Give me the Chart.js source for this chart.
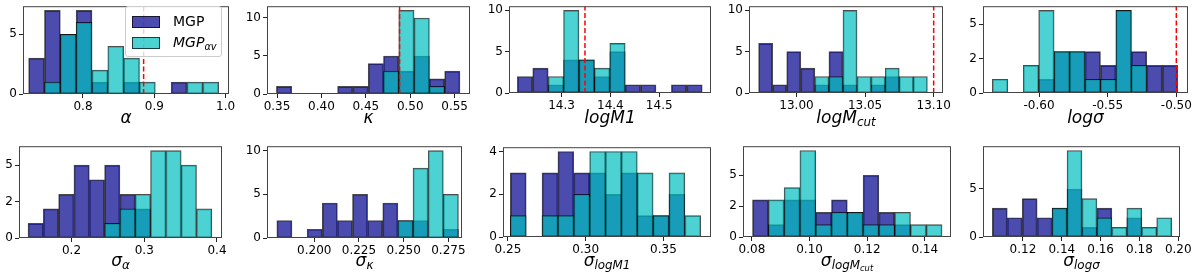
<!DOCTYPE html>
<html>
<head>
<meta charset="utf-8">
<script src="https://cdn.jsdelivr.net/npm/chart.js@4.4.1/dist/chart.umd.min.js"></script>
<style>
  body { margin: 0; width: 1200px; height: 273px; position: relative; overflow: hidden; background: #fff; font-family: "DejaVu Sans", sans-serif; }
  canvas { position: absolute; }
  .xt { position: absolute; font-size: 17px; line-height: 1; transform: translate(-50%, -50%); white-space: nowrap; color: #000; }
  .xt sub { font-size: 70%; vertical-align: -0.28em; line-height: 0; }
  #legend { position: absolute; left: 125px; top: 6px; width: 97px; height: 51px; box-sizing: border-box;
            background: rgba(255,255,255,0.8); border: 1px solid #ccc; border-radius: 3px; font-size: 14px; }
  #legend .row { position: absolute; left: 6px; height: 13px; }
  #legend .patch { position: absolute; left: 0; top: 0; width: 28px; height: 12px; box-sizing: border-box; border: 1px solid rgba(0,0,0,0.7); }
  #legend .lab { position: absolute; left: 41px; top: -2px; white-space: nowrap; line-height: 1; }
  #legend sub { font-size: 70%; vertical-align: -0.3em; line-height: 0; }
</style>
</head>
<body>
<div id="legend">
  <div class="row" style="top:9px"><span class="patch" style="background:rgba(0,0,139,0.7)"></span><span class="lab">MGP</span></div>
  <div class="row" style="top:30px"><span class="patch" style="background:rgba(0,191,191,0.7)"></span><span class="lab"><i>MGP</i><sub><i>αv</i></sub></span></div>
</div>
<script>
// --- DATA ---
// histogram range (first and last bin edge) of each panel, 12 equal bins
const binRanges = [
  [0.7238, 0.9902], [0.3493, 0.5560], [14.2096, 14.588], [12.9724, 13.0954], [-0.634, -0.499],
  [0.1402, 0.3929], [0.1791, 0.2806], [0.2515, 0.374], [0.0802, 0.1460], [0.1042, 0.1966]
];
const mgpCounts = [
  [3, 7, 5, 7, 1, 0, 1, 0, 0, 1, 0, 0],
  [1, 0, 0, 0, 1, 1, 4, 5, 3, 5, 2, 3],
  [2, 3, 1, 4, 4, 2, 5, 1, 1, 0, 1, 1],
  [6, 1, 5, 3, 1, 5, 1, 0, 1, 2, 0, 0],
  [0, 0, 0, 1, 3, 3, 3, 2, 6, 3, 2, 2],
  [1, 2, 3, 5, 4, 5, 3, 2, 0, 0, 0, 0],
  [2, 0, 1, 4, 2, 5, 2, 4, 2, 2, 0, 1],
  [3, 0, 3, 4, 3, 3, 2, 3, 1, 1, 2, 0],
  [3, 1, 3, 3, 2, 3, 2, 5, 2, 1, 0, 0],
  [3, 2, 4, 2, 3, 5, 1, 3, 0, 2, 0, 0]
];
const mgpAvCounts = [
  [0, 1, 5, 6, 2, 4, 3, 1, 0, 0, 1, 1],
  [0, 0, 0, 0, 0, 0, 0, 3, 11, 10, 1, 0],
  [0, 0, 2, 10, 4, 3, 6, 0, 0, 0, 0, 0],
  [0, 0, 0, 0, 2, 2, 10, 2, 2, 3, 2, 2],
  [1, 0, 2, 6, 3, 3, 1, 1, 6, 2, 0, 0],
  [0, 0, 0, 0, 0, 1, 2, 3, 6, 6, 5, 2],
  [0, 0, 0, 0, 0, 0, 0, 0, 2, 8, 10, 5],
  [1, 0, 1, 1, 2, 4, 4, 4, 3, 1, 3, 1],
  [0, 3, 4, 7, 1, 2, 2, 1, 1, 2, 1, 1],
  [0, 0, 0, 0, 3, 9, 4, 2, 1, 3, 1, 2]
];
const truthValues = [0.885, 0.488, 14.348, 13.10, -0.50, null, null, null, null, null];
const xLimits = [
  [0.7159, 1.0047], [0.3387, 0.5673], [14.1925, 14.606], [12.9654, 13.1068], [-0.6408, -0.4915],
  [0.1278, 0.4069], [0.1736, 0.2826], [0.2468, 0.3806], [0.0769, 0.1491], [0.0994, 0.2009]
];
const xTickLabels = [
  ['0.8', '0.9', '1.0'], ['0.35', '0.40', '0.45', '0.50', '0.55'], ['14.3', '14.4', '14.5'],
  ['13.00', '13.05', '13.10'], ['-0.60', '-0.55', '-0.50'],
  ['0.2', '0.3', '0.4'], ['0.200', '0.225', '0.250', '0.275'], ['0.25', '0.30', '0.35'],
  ['0.08', '0.10', '0.12', '0.14'], ['0.12', '0.14', '0.16', '0.18', '0.20']
];
const yTickValues = [
  [0, 5], [0, 5, 10], [0, 5, 10], [0, 5, 10], [0, 2.5, 5],
  [0, 2.5, 5], [0, 5, 10], [0, 2, 4], [0, 2.5, 5], [0, 5]
];
const yMaxValues = [7.35, 11.55, 10.5, 10.5, 6.3, 6.3, 10.5, 4.2, 7.35, 9.45];
const xTitles = [
  '<i>α</i>', '<i>κ</i>', '<i>logM1</i>', '<i>logM</i><sub><i>cut</i></sub>', '<i>logσ</i>',
  '<i>σ</i><sub><i>α</i></sub>', '<i>σ</i><sub><i>κ</i></sub>', '<i>σ</i><sub><i>logM1</i></sub>',
  '<i>σ</i><sub><i>logM<sub>cut</sub></i></sub>', '<i>σ</i><sub><i>logσ</i></sub>'
];

// --- LAYOUT (plot frame left, top, right, bottom) ---
const frames = [
  [23, 5, 229, 94], [267, 5, 470, 94], [509, 5, 711, 93], [749, 5, 943, 93], [983, 5, 1188, 93],
  [19, 145, 222, 238], [267, 145, 462, 238], [503, 146, 711, 237], [743, 145, 951, 237], [983, 145, 1180, 237]
];
const PAD_L = 28, PAD_T = 8, PAD_R = 20, AXIS_H = 22;
const tickFont = { family: "'DejaVu Sans', sans-serif", size: 12 };

const framePlugin = {
  id: 'frame',
  afterDatasetsDraw(chart) {
    const { ctx, chartArea: a } = chart;
    ctx.save();
    ctx.strokeStyle = '#444';
    ctx.lineWidth = 1;
    ctx.strokeRect(a.left + 0.5, a.top + 0.5, a.right - a.left - 1, a.bottom - a.top - 1);
    ctx.restore();
  }
};

const histData = (counts, range) => {
  const w = (range[1] - range[0]) / counts.length;
  return counts.map((c, i) => ({ x: range[0] + (i + 0.5) * w, y: c }));
};

frames.forEach((f, p) => {
  const [L, T, R, B] = f;
  const cv = document.createElement('canvas');
  cv.width = R - L + PAD_L + PAD_R;
  cv.height = B - T + PAD_T + AXIS_H;
  cv.style.left = (L - PAD_L) + 'px';
  cv.style.top = (T - PAD_T) + 'px';
  document.body.appendChild(cv);

  const barStyle = { borderColor: 'rgba(0,0,0,0.7)', borderWidth: 1, borderSkipped: false,
                     barPercentage: 1, categoryPercentage: 1, grouped: false };
  const datasets = [
    { label: 'MGP', data: histData(mgpCounts[p], binRanges[p]), backgroundColor: 'rgba(0,0,139,0.7)', order: 2, ...barStyle },
    { label: 'MGPav', data: histData(mgpAvCounts[p], binRanges[p]), backgroundColor: 'rgba(0,191,191,0.7)', order: 1, ...barStyle }
  ];
  if (truthValues[p] !== null) {
    datasets.push({ type: 'line', label: 'truth', order: 0,
      data: [{ x: truthValues[p], y: 0 }, { x: truthValues[p], y: yMaxValues[p] }],
      borderColor: 'red', borderWidth: 1.5, borderDash: [5, 2.5], pointRadius: 0, fill: false });
  }

  const xVals = xTickLabels[p].map(Number);
  new Chart(cv, {
    type: 'bar',
    data: { datasets },
    options: {
      responsive: false, animation: false, devicePixelRatio: 1,
      layout: { padding: { top: PAD_T, right: PAD_R, left: 0, bottom: 0 } },
      plugins: { legend: { display: false }, tooltip: { enabled: false } },
      scales: {
        x: {
          type: 'linear', min: xLimits[p][0], max: xLimits[p][1], offset: false,
          afterBuildTicks: s => { s.ticks = xVals.map(v => ({ value: v })); },
          afterFit: s => { s.height = AXIS_H; },
          ticks: { autoSkip: false, maxRotation: 0, padding: 2, color: '#000', font: tickFont,
                   callback: (v, i) => xTickLabels[p][i] },
          grid: { offset: false, drawOnChartArea: false, tickLength: 4, color: '#222' },
          border: { display: false }
        },
        y: {
          type: 'linear', min: 0, max: yMaxValues[p],
          afterBuildTicks: s => { s.ticks = yTickValues[p].map(v => ({ value: v })); },
          afterFit: s => { s.width = PAD_L; },
          ticks: { padding: 2, color: '#000', font: tickFont, callback: v => String(Math.trunc(v)) },
          grid: { drawOnChartArea: false, tickLength: 4, color: '#222' },
          border: { display: false }
        }
      }
    },
    plugins: [framePlugin]
  });

  const t = document.createElement('div');
  t.className = 'xt';
  t.innerHTML = xTitles[p];
  t.style.left = ((L + R) / 2) + 'px';
  t.style.top = (p < 5 ? 117 : 260) + 'px';
  document.body.appendChild(t);
});

// keep legend above first panel canvas
document.body.appendChild(document.getElementById('legend'));
</script>
</body>
</html>
